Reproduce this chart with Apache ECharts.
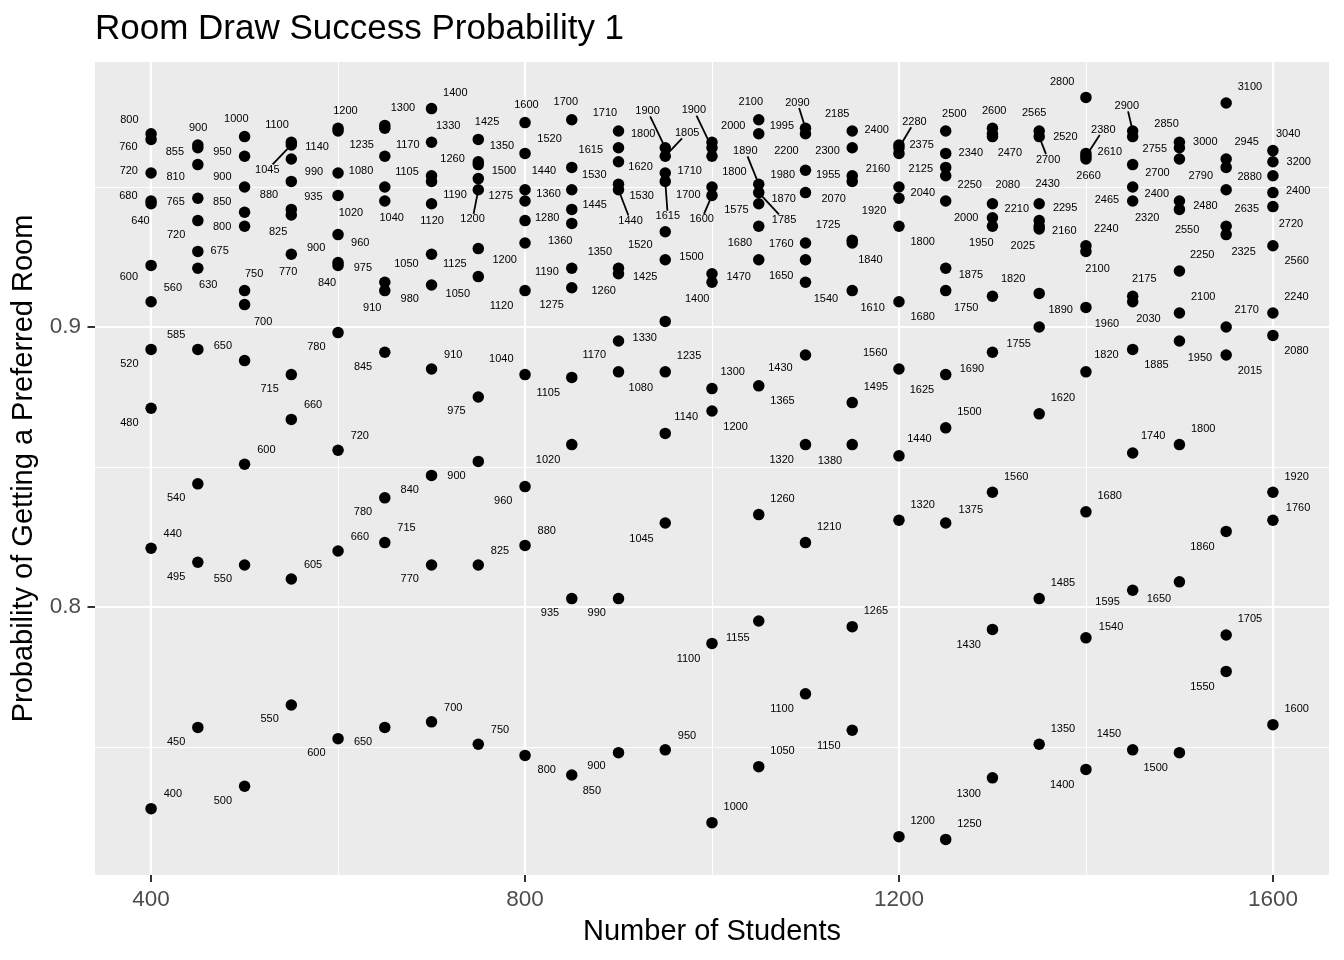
<!DOCTYPE html>
<html>
<head>
<meta charset="utf-8">
<script src="https://cdn.jsdelivr.net/npm/echarts@6/dist/echarts.min.js"></script>
<style>
html,body{margin:0;padding:0;background:#ffffff;}
#chart{width:1344px;height:960px;}
</style>
</head>
<body>
<div id="chart"></div>
<script>
// ---------------- data (label = rooms drawn, value = probability) ----------------
const students = [400,450,500,550,600,650,700,750,800,850,900,950,1000,1050,1100,1150,1200,1250,1300,1350,1400,1450,1500,1550,1600];

const c400  = [[400,0.728],[440,0.821],[480,0.871],[520,0.892],[560,0.909],[600,0.922],[640,0.944],[680,0.945],[720,0.955],[760,0.967],[800,0.969]];
const c450  = [[450,0.757],[495,0.816],[540,0.844],[585,0.892],[630,0.921],[675,0.927],[720,0.938],[765,0.946],[810,0.958],[855,0.964],[900,0.965]];
const c500  = [[500,0.736],[550,0.815],[600,0.851],[650,0.888],[700,0.908],[750,0.913],[800,0.936],[850,0.941],[900,0.950],[950,0.961],[1000,0.968]];
const c550  = [[550,0.765],[605,0.810],[660,0.867],[715,0.883],[770,0.926],[825,0.940],[935,0.942],[880,0.952],[990,0.960],[1045,0.965],[1100,0.966]];
const c600  = [[600,0.753],[660,0.820],[720,0.856],[780,0.898],[840,0.922],[900,0.923],[960,0.933],[1020,0.947],[1080,0.955],[1140,0.970],[1200,0.971]];
const c650  = [[650,0.757],[715,0.823],[780,0.839],[845,0.891],[910,0.913],[975,0.916],[1040,0.945],[1105,0.950],[1170,0.961],[1235,0.971],[1300,0.972]];
const c700  = [[700,0.759],[770,0.815],[840,0.847],[910,0.885],[980,0.915],[1050,0.926],[1120,0.944],[1190,0.952],[1260,0.954],[1330,0.966],[1400,0.978]];
const c750  = [[750,0.751],[825,0.815],[900,0.852],[975,0.875],[1050,0.918],[1125,0.928],[1200,0.949],[1275,0.953],[1500,0.958],[1350,0.959],[1425,0.967]];
const c800  = [[800,0.747],[880,0.822],[960,0.843],[1040,0.883],[1120,0.913],[1200,0.930],[1280,0.938],[1360,0.945],[1440,0.949],[1520,0.962],[1600,0.973]];
const c850  = [[850,0.740],[935,0.803],[1020,0.858],[1105,0.882],[1275,0.914],[1190,0.921],[1360,0.937],[1445,0.942],[1530,0.949],[1615,0.957],[1700,0.974]];
const c900  = [[900,0.748],[990,0.803],[1080,0.884],[1170,0.895],[1260,0.919],[1350,0.921],[1440,0.949],[1530,0.951],[1620,0.959],[1800,0.964],[1710,0.970]];
const c950  = [[950,0.749],[1045,0.830],[1140,0.862],[1235,0.884],[1330,0.902],[1425,0.924],[1520,0.934],[1615,0.952],[1710,0.955],[1805,0.961],[1900,0.964]];
const c1000 = [[1000,0.723],[1100,0.787],[1200,0.870],[1300,0.878],[1400,0.916],[1500,0.919],[1600,0.947],[1700,0.950],[1800,0.961],[1900,0.964],[2000,0.966]];
const c1050 = [[1050,0.743],[1155,0.795],[1260,0.833],[1365,0.879],[1470,0.924],[1680,0.936],[1575,0.944],[1785,0.948],[1890,0.951],[1995,0.969],[2100,0.974]];
const c1100 = [[1100,0.769],[1210,0.823],[1320,0.858],[1430,0.890],[1540,0.916],[1650,0.924],[1760,0.930],[1870,0.948],[1980,0.956],[2200,0.969],[2090,0.971]];
const c1150 = [[1150,0.756],[1265,0.793],[1380,0.858],[1495,0.873],[1610,0.913],[1725,0.931],[1840,0.930],[1955,0.954],[2070,0.952],[2185,0.970],[2300,0.964]];
const c1200 = [[1200,0.718],[1320,0.831],[1440,0.854],[1560,0.885],[1680,0.909],[1800,0.936],[1920,0.946],[2040,0.950],[2160,0.962],[2280,0.964],[2400,0.965]];
const c1250 = [[1250,0.717],[1375,0.830],[1500,0.864],[1625,0.883],[1750,0.913],[1875,0.921],[2000,0.945],[2250,0.954],[2125,0.957],[2375,0.962],[2500,0.970]];
const c1300 = [[1300,0.739],[1430,0.792],[1560,0.841],[1690,0.891],[1820,0.911],[1950,0.936],[2210,0.939],[2080,0.944],[2340,0.968],[2470,0.969],[2600,0.971]];
const c1350 = [[1350,0.751],[1485,0.803],[1620,0.869],[1755,0.900],[1890,0.912],[2025,0.935],[2160,0.936],[2295,0.938],[2430,0.944],[2565,0.970],[2700,0.968]];
const c1400 = [[1400,0.742],[1540,0.789],[1680,0.834],[1820,0.884],[1960,0.907],[2100,0.927],[2240,0.929],[2660,0.960],[2380,0.961],[2520,0.962],[2800,0.982]];
const c1450 = [[1450,0.749],[1595,0.806],[1740,0.855],[1885,0.892],[2030,0.909],[2175,0.911],[2320,0.945],[2465,0.950],[2610,0.958],[2755,0.968],[2900,0.970]];
const c1500 = [[1500,0.748],[1650,0.809],[1800,0.858],[1950,0.895],[2100,0.905],[2250,0.920],[2550,0.942],[2400,0.945],[2700,0.960],[3000,0.964],[2850,0.966]];
const c1550 = [[1550,0.777],[1705,0.790],[1860,0.827],[2015,0.890],[2170,0.900],[2325,0.933],[2635,0.936],[2480,0.949],[2790,0.957],[2945,0.960],[3100,0.980]];
const c1600 = [[1600,0.758],[1760,0.831],[1920,0.841],[2080,0.897],[2240,0.905],[2560,0.929],[2720,0.943],[2400,0.948],[2880,0.954],[3200,0.959],[3040,0.963]];

const columns = [c400,c450,c500,c550,c600,c650,c700,c750,c800,c850,c900,c950,c1000,c1050,c1100,c1150,c1200,c1250,c1300,c1350,c1400,c1450,c1500,c1550,c1600];

const xTicks = [400, 800, 1200, 1600];
const xMinorTicks = [600, 1000, 1400];
const yTicks = [0.8, 0.9];
const yMinorTicks = [0.75, 0.85, 0.95];

// ---------------- label layout hints: initial repel direction per label (like a ggrepel seed) ----------------
const labelDir = {
  400: {400:'UR',440:'UR',480:'DL',520:'DL',560:'UR',600:'DL',640:'DL',680:'DL',720:'DL',760:'UL',800:'DL'},
  450: {450:'DL',495:'DL',540:'DL',585:'UL',630:'DR',675:'DR',720:'DL',765:'DL',810:'DL',855:'DL',900:'UL'},
  500: {500:'DL',550:'DL',600:'UR',650:'UL',700:'DR',750:'UL',800:'DL',850:'UL',900:'UL',950:'UL',1000:'UL'},
  550: {550:'DL',605:'UR',660:'UR',715:'DL',770:'DL',825:'DL',880:'DL',935:'UR',990:'DR',1045:'UL',1100:'UR'},
  600: {600:'DL',660:'UR',720:'UR',780:'DL',840:'DL',900:'UL',960:'UR',1020:'UR',1080:'UR',1140:'DL',1200:'UR'},
  650: {650:'DL',715:'UR',780:'DL',845:'DL',910:'DL',975:'UL',1040:'DR',1105:'UR',1170:'UR',1235:'UL',1300:'UR'},
  700: {700:'UR',770:'DL',840:'DL',910:'UR',980:'DL',1050:'DL',1120:'DR',1190:'DR',1260:'UR',1330:'UR',1400:'UR'},
  750: {750:'UR',825:'UR',900:'DL',975:'DL',1050:'DL',1125:'DL',1200:'DR',1275:'UR',1350:'UR',1425:'UR',1500:'UR'},
  800: {800:'DR',880:'UR',960:'DL',1040:'UL',1120:'DL',1200:'DL',1280:'UR',1360:'UR',1440:'UR',1520:'UR',1600:'UR'},
  850: {850:'DR',935:'DL',1020:'DL',1105:'DL',1190:'DL',1275:'DL',1360:'DL',1445:'UR',1530:'UR',1615:'UR',1700:'UR'},
  900: {900:'DL',990:'DL',1080:'DR',1170:'DL',1260:'DL',1350:'UL',1440:'DL',1530:'DR',1620:'DR',1710:'UL',1800:'UR'},
  950: {950:'UR',1045:'DL',1140:'UR',1235:'UR',1330:'DL',1425:'DL',1520:'DL',1615:'DL',1710:'UR',1805:'UR',1900:'UL'},
  1000: {1000:'UR',1100:'DL',1200:'DR',1300:'UR',1400:'DL',1500:'DL',1600:'DL',1700:'DL',1800:'DR',1900:'UL',2000:'UR'},
  1050: {1050:'UR',1155:'DL',1260:'UR',1365:'DR',1470:'DL',1575:'DL',1680:'DL',1785:'DR',1890:'UL',1995:'UR',2100:'UR'},
  1100: {1100:'DL',1210:'UR',1320:'DL',1430:'DL',1540:'DR',1650:'DL',1760:'DL',1870:'DR',1980:'DL',2090:'UR',2200:'DL'},
  1150: {1150:'DL',1265:'UR',1380:'DL',1495:'UR',1610:'DR',1725:'DL',1840:'DR',1955:'UL',2070:'DL',2185:'UR',2300:'UL'},
  1200: {1200:'UR',1320:'UR',1440:'UR',1560:'UL',1680:'DR',1800:'DR',1920:'DL',2040:'DR',2160:'DL',2280:'UR',2400:'UL'},
  1250: {1250:'UR',1375:'UR',1500:'UR',1625:'DL',1750:'DR',1875:'DR',2000:'DR',2125:'DL',2250:'DR',2375:'UL',2500:'UR'},
  1300: {1300:'DL',1430:'DL',1560:'UR',1690:'DL',1820:'UR',1950:'DR',2080:'UR',2210:'UR',2340:'DL',2470:'DR',2600:'UL'},
  1350: {1350:'UR',1485:'UR',1620:'UR',1755:'DL',1890:'DR',2025:'DR',2160:'DR',2295:'UR',2430:'UR',2565:'UL',2700:'DR'},
  1400: {1400:'DL',1540:'UR',1680:'UR',1820:'UR',1960:'DR',2100:'DR',2240:'UR',2380:'UR',2520:'UL',2660:'DR',2800:'UL'},
  1450: {1450:'UL',1595:'DL',1740:'UR',1885:'DR',2030:'DR',2175:'UR',2320:'DR',2465:'DL',2610:'UL',2755:'UR',2900:'UR'},
  1500: {1500:'DL',1650:'DL',1800:'UR',1950:'DR',2100:'UR',2250:'UR',2400:'UL',2550:'DR',2700:'UL',2850:'UR',3000:'UR'},
  1550: {1550:'DL',1705:'UR',1860:'DL',2015:'DR',2170:'UR',2325:'DR',2480:'DL',2635:'UR',2790:'DL',2945:'UR',3100:'UR'},
  1600: {1600:'UR',1760:'UR',1920:'UR',2080:'DR',2240:'UR',2400:'UR',2560:'DR',2720:'DR',2880:'DL',3200:'DR',3040:'UR'}
};

// ---------------- build ----------------
const FF = '"Liberation Sans", Arial, Helvetica, sans-serif';
const points = [];
students.forEach((x, ci) => columns[ci].forEach(([lab, p]) => points.push([x, p, lab])));

const chart = echarts.init(document.getElementById('chart'), null, {renderer: 'canvas'});

const X_MIN = 340, X_MAX = 1660, Y_MIN = 0.7043, Y_MAX = 0.99464;

const option = {
  animation: false,
  backgroundColor: '#ffffff',
  textStyle: {fontFamily: FF},
  title: {
    text: 'Room Draw Success Probability 1',
    left: 95, top: 12, padding: 0,
    textStyle: {fontSize: 35, fontWeight: 'normal', color: '#000000', fontFamily: FF}
  },
  grid: {
    left: 95, right: 15, top: 62, bottom: 85,
    containLabel: false, outerBoundsMode: 'none',
    show: true, backgroundColor: '#EBEBEB', borderWidth: 0
  },
  xAxis: [
    {
      type: 'value', min: X_MIN, max: X_MAX, position: 'bottom',
      name: 'Number of Students', nameLocation: 'middle', nameGap: 42.5,
      nameTextStyle: {fontSize: 29, color: '#000000', fontFamily: FF},
      axisLine: {show: false},
      axisTick: {show: true, length: 7, lineStyle: {color: '#333333', width: 2}, customValues: xTicks},
      axisLabel: {fontSize: 22.5, color: '#4D4D4D', margin: 13, customValues: xTicks, fontFamily: FF,
                  formatter: v => String(Math.round(v))},
      splitLine: {show: true, lineStyle: {color: '#ffffff', width: 2.2}}
    },
    {
      type: 'value', min: X_MIN, max: X_MAX, position: 'top',
      axisLine: {show: false},
      axisTick: {show: false, customValues: xMinorTicks},
      axisLabel: {show: false, customValues: xMinorTicks},
      splitLine: {show: true, lineStyle: {color: '#ffffff', width: 1.1}}
    }
  ],
  yAxis: [
    {
      type: 'value', min: Y_MIN, max: Y_MAX, position: 'left',
      name: 'Probability of Getting a Preferred Room', nameLocation: 'middle', nameGap: 53, nameRotate: 90,
      nameTextStyle: {fontSize: 29, color: '#000000', fontFamily: FF},
      axisLine: {show: false},
      axisTick: {show: true, length: 7.5, lineStyle: {color: '#333333', width: 2}, customValues: yTicks},
      axisLabel: {fontSize: 22.5, color: '#4D4D4D', margin: 14, customValues: yTicks, fontFamily: FF,
                  formatter: v => Number(v).toFixed(1)},
      splitLine: {show: true, lineStyle: {color: '#ffffff', width: 2.2}}
    },
    {
      type: 'value', min: Y_MIN, max: Y_MAX, position: 'right',
      axisLine: {show: false},
      axisTick: {show: false, customValues: yMinorTicks},
      axisLabel: {show: false, customValues: yMinorTicks},
      splitLine: {show: true, lineStyle: {color: '#ffffff', width: 1.1}}
    }
  ],
  series: [
    {
      type: 'scatter', xAxisIndex: 0, yAxisIndex: 0, silent: true, z: 3,
      symbol: 'circle', symbolSize: 11.5,
      itemStyle: {color: '#000000', opacity: 1},
      data: points.map(p => [p[0], p[1]])
    }
  ]
};
chart.setOption(option);

// ---------------- ggrepel-like label layout ----------------
function mulberry32(a) {
  return function() {
    a |= 0; a = a + 0x6D2B79F5 | 0;
    let t = Math.imul(a ^ a >>> 15, 1 | a);
    t = t + Math.imul(t ^ t >>> 7, 61 | t) ^ t;
    return ((t ^ t >>> 14) >>> 0) / 4294967296;
  };
}
const clamp = (v, a, b) => v < a ? a : (v > b ? b : v);

const LABEL_SIZE = 11;
const TXT_H = 8;
const BOX_PAD = 8.5;
const PT_R = 5.5;
const KP = 0.04;
const SEG_MIN = 17;

const P = points.map(p => chart.convertToPixel({seriesIndex: 0}, [p[0], p[1]]));
const bl = chart.convertToPixel({seriesIndex: 0}, [X_MIN, Y_MIN]);
const tr = chart.convertToPixel({seriesIndex: 0}, [X_MAX, Y_MAX]);
const bounds = {left: bl[0], right: tr[0], top: tr[1], bottom: bl[1]};
// ggrepel pushes coincident labels along the panel diagonal (normalised units)
const diag = (() => { const w = bounds.right - bounds.left, h = bounds.bottom - bounds.top, n = Math.hypot(w, h); return [w / n, h / n]; })();
const DIRS = {UR: [diag[0], -diag[1]], DL: [-diag[0], diag[1]], UL: [-diag[0], -diag[1]], DR: [diag[0], diag[1]]};

const mctx = document.createElement('canvas').getContext('2d');
mctx.font = LABEL_SIZE + 'px ' + FF;
const N = P.length;
const tw = points.map(p => mctx.measureText(String(p[2])).width);
const hw = tw.map(w => w / 2 + BOX_PAD);
const hh = TXT_H / 2 + BOX_PAD;

const rand = mulberry32(20240611);
const L = points.map((p, i) => {
  const hint = (labelDir[p[0]] || {})[p[2]];
  const d = hint ? DIRS[hint] : (rand() < 0.5 ? DIRS.UR : DIRS.DL);
  return [P[i][0] + d[0] * 1.5, P[i][1] + d[1] * 1.5];
});

const nearPts = [], nearLbl = [];
for (let i = 0; i < N; i++) {
  nearPts.push([]); nearLbl.push([]);
  for (let j = 0; j < N; j++) {
    const d = Math.hypot(P[i][0] - P[j][0], P[i][1] - P[j][1]);
    if (d < 150) nearPts[i].push(j);
    if (j !== i && d < 210) nearLbl[i].push(j);
  }
}

const F = new Float64Array(N * 2);
const ITERS = 1600;
for (let it = 0; it < ITERS; it++) {
  for (let i = 0; i < N; i++) {
    let fx = 0, fy = 0;
    const cx = L[i][0], cy = L[i][1];
    const np = nearPts[i];
    for (let a = 0; a < np.length; a++) {
      const j = np[a];
      const px = P[j][0], py = P[j][1];
      const qx = clamp(px, cx - hw[i], cx + hw[i]);
      const qy = clamp(py, cy - hh, cy + hh);
      const d = Math.hypot(qx - px, qy - py);
      if (d < PT_R) {
        let ux = cx - px, uy = cy - py;
        let un = Math.hypot(ux, uy);
        if (un < 1e-6) { ux = DIRS.UR[0]; uy = DIRS.UR[1]; un = 1; }
        ux /= un; uy /= un;
        let mag;
        if (d > 1e-9) mag = PT_R - d;
        else {
          const tx = Math.abs(ux) > 1e-9 ? (hw[i] + PT_R - Math.abs(cx - px)) / Math.abs(ux) : Infinity;
          const ty = Math.abs(uy) > 1e-9 ? (hh + PT_R - Math.abs(cy - py)) / Math.abs(uy) : Infinity;
          mag = Math.min(tx, ty);
        }
        fx += ux * mag; fy += uy * mag;
      }
    }
    const nl = nearLbl[i];
    for (let a = 0; a < nl.length; a++) {
      const k = nl[a];
      const dx = cx - L[k][0], dy = cy - L[k][1];
      const ox = hw[i] + hw[k] - Math.abs(dx), oy = 2 * hh - Math.abs(dy);
      if (ox > 0 && oy > 0) {
        let n = Math.hypot(dx, dy);
        let ux, uy;
        if (n < 1e-6) { ux = (i < k) ? DIRS.UR[0] : DIRS.DL[0]; uy = (i < k) ? DIRS.UR[1] : DIRS.DL[1]; }
        else { ux = dx / n; uy = dy / n; }
        const tx = Math.abs(ux) > 1e-9 ? ox / Math.abs(ux) : Infinity;
        const ty = Math.abs(uy) > 1e-9 ? oy / Math.abs(uy) : Infinity;
        const t = Math.min(tx, ty) * 0.5;
        fx += ux * t; fy += uy * t;
      }
    }
    fx += (P[i][0] - cx) * KP;
    fy += (P[i][1] - cy) * KP;
    F[2 * i] = fx; F[2 * i + 1] = fy;
  }
  const alpha = 0.5;
  for (let i = 0; i < N; i++) {
    let fx = F[2 * i] * alpha, fy = F[2 * i + 1] * alpha;
    const m = Math.hypot(fx, fy);
    if (m > 4) { fx = fx / m * 4; fy = fy / m * 4; }
    L[i][0] = clamp(L[i][0] + fx, bounds.left + hw[i], bounds.right - hw[i]);
    L[i][1] = clamp(L[i][1] + fy, bounds.top + hh, bounds.bottom - hh);
  }
}

const offsets = [], segEnds = [];
for (let i = 0; i < N; i++) {
  const cx = L[i][0], cy = L[i][1];
  offsets.push([cx - P[i][0], cy - P[i][1]]);
  const thw = tw[i] / 2 + 1.5, thh = TXT_H / 2 + 1.5;
  const qx = clamp(P[i][0], cx - thw, cx + thw), qy = clamp(P[i][1], cy - thh, cy + thh);
  const dist = Math.hypot(P[i][0] - qx, P[i][1] - qy);
  if (dist > SEG_MIN) {
    const dx = P[i][0] - cx, dy = P[i][1] - cy;
    const t = Math.min(Math.abs(dx) > 1e-9 ? thw / Math.abs(dx) : Infinity, Math.abs(dy) > 1e-9 ? thh / Math.abs(dy) : Infinity);
    segEnds.push([dx * t, dy * t]);
  } else segEnds.push(null);
}

chart.setOption({
  series: [
    option.series[0],
    {
      type: 'custom', xAxisIndex: 0, yAxisIndex: 0, silent: true, z: 4, clip: false,
      data: points.map((p, i) => [p[0], p[1], i]),
      renderItem: function (params, api) {
        const i = api.value(2);
        const c = api.coord([api.value(0), api.value(1)]);
        const cx = c[0] + offsets[i][0], cy = c[1] + offsets[i][1];
        const children = [];
        if (segEnds[i]) {
          children.push({
            type: 'line',
            shape: {x1: c[0], y1: c[1], x2: cx + segEnds[i][0], y2: cy + segEnds[i][1]},
            style: {stroke: '#000000', lineWidth: 1.8}
          });
        }
        children.push({
          type: 'text', x: cx, y: cy,
          style: {text: String(points[i][2]), align: 'center', verticalAlign: 'middle',
                  fontSize: LABEL_SIZE, fontFamily: FF, fill: '#000000'}
        });
        return {type: 'group', children: children};
      }
    }
  ]
});
</script>
</body>
</html>
